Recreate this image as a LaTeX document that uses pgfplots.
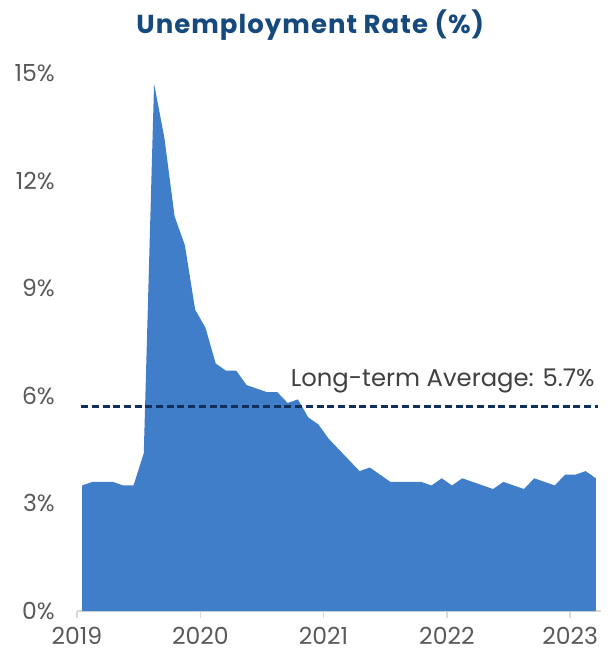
\documentclass[border=0pt]{standalone}
\usepackage{pgfplots}
\pgfplotsset{compat=1.18}
\usepackage{fontspec}
\setmainfont{Poppins}
\definecolor{areablue}{RGB}{64,126,201}
\definecolor{titleblue}{RGB}{23,74,124}
\definecolor{navy}{RGB}{18,46,90}
\definecolor{ticklbl}{RGB}{89,89,89}
\definecolor{axgray}{RGB}{217,217,217}
\begin{document}
\begin{tikzpicture}
\begin{axis}[
  at={(0pt,0pt)}, anchor=south west,
  scale only axis, width=524pt, height=538pt,
  xmin=0, xmax=51, ymin=0, ymax=15,
  clip=false,
  axis x line*=bottom, axis y line*=left,
  y axis line style={draw=none},
  x axis line style={draw=axgray, line width=1.4pt},
  xtick={0,12,24,36,48},
  xticklabels={2019,2020,2021,2022,2023},
  ytick={0,3,6,9,12,15},
  yticklabels={0\%,3\%,6\%,9\%,12\%,15\%},
  major y tick style={draw=none},
  major x tick style={draw=axgray, line width=1.4pt},
  x tick style={draw=axgray},
  xtick align=outside,
  major tick length=7pt,
  tick label style={font=\fontsize{23.5}{26}\selectfont, text=ticklbl, inner sep=0pt},
  yticklabel style={anchor=east},
  yticklabel shift=22pt,
  xticklabel style={anchor=north},
  xticklabel shift=9pt,
]
\addplot[fill=areablue, draw=none] table[x=x, y=y] {
x y
0.5 3.5
1.5 3.6
2.5 3.6
3.5 3.6
4.5 3.5
5.5 3.5
6.5 4.4
7.5 14.7
8.5 13.2
9.5 11.0
10.5 10.2
11.5 8.4
12.5 7.9
13.5 6.9
14.5 6.7
15.5 6.7
16.5 6.3
17.5 6.2
18.5 6.1
19.5 6.1
20.5 5.8
21.5 5.9
22.5 5.4
23.5 5.2
24.5 4.8
25.5 4.5
26.5 4.2
27.5 3.9
28.5 4.0
29.5 3.8
30.5 3.6
31.5 3.6
32.5 3.6
33.5 3.6
34.5 3.5
35.5 3.7
36.5 3.5
37.5 3.7
38.5 3.6
39.5 3.5
40.5 3.4
41.5 3.6
42.5 3.5
43.5 3.4
44.5 3.7
45.5 3.6
46.5 3.5
47.5 3.8
48.5 3.8
49.5 3.9
50.5 3.7
} \closedcycle;
\addplot[navy, line width=2.7pt, dash pattern=on 7pt off 3.7pt] coordinates {(0.4,5.7) (50.7,5.7)};
\node[anchor=base east, inner sep=0pt, text={rgb,255:red,64;green,64;blue,64}, font=\fontsize{24.3}{27}\selectfont] at (axis cs:50.4,6.25) {Long-term Average: 5.7\%};
\node[anchor=base, inner sep=0pt, text=titleblue, font=\fontsize{26}{29}\selectfont\bfseries\addfontfeatures{LetterSpace=4}] at (axis cs:22.7,16.11) {Unemployment Rate (\%)};
\end{axis}
\path[use as bounding box] (-77pt,-41pt) rectangle (530pt,611pt);
\end{tikzpicture}
\end{document}
